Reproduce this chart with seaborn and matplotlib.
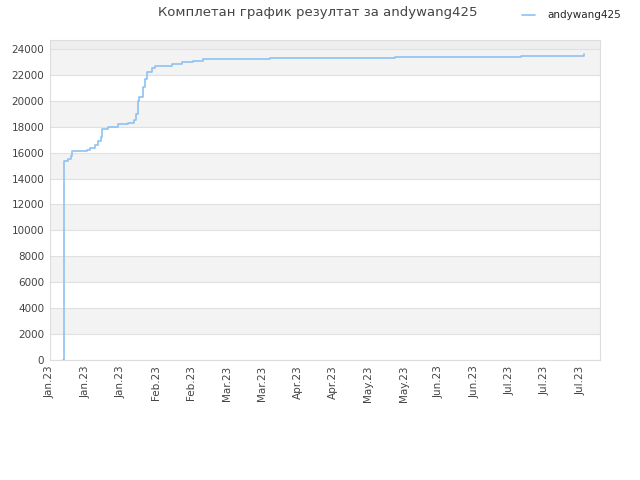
import seaborn as sns
import matplotlib.pyplot as plt
import matplotlib.dates as mdates
import pandas as pd

# podaci ocitani sa grafika
user = "andywang425"
datumi = [
    "2023-01-06 09:00", "2023-01-06 10:00", "2023-01-08 07:00", "2023-01-09 07:00",
    "2023-01-09 19:00", "2023-01-12 22:00", "2023-01-15 12:00", "2023-01-16 19:00",
    "2023-01-18 19:00", "2023-01-20 00:00", "2023-01-21 05:00", "2023-01-21 17:00",
    "2023-01-24 00:00", "2023-01-28 02:00", "2023-01-31 22:00", "2023-02-03 07:00",
    "2023-02-04 00:00", "2023-02-04 17:00", "2023-02-05 07:00", "2023-02-07 00:00",
    "2023-02-07 14:00", "2023-02-08 10:00", "2023-02-10 07:00", "2023-02-11 14:00",
    "2023-02-14 07:00", "2023-02-18 05:00", "2023-02-22 05:00", "2023-02-26 19:00",
    "2023-03-02 17:00", "2023-03-29 05:00", "2023-05-17 17:00", "2023-07-06 12:00",
    "2023-07-31 14:00",
]
rezultat = [
    0, 15380, 15500, 15750,
    16100, 16150, 16200, 16380,
    16590, 16900, 17200, 17800,
    18000, 18200, 18300, 18500,
    19000, 20000, 20300, 21100,
    21700, 22200, 22550, 22650,
    22700, 22850, 23000, 23100,
    23200, 23330, 23410, 23490,
    23590,
]
y_ticks = list(range(0, 24001, 2000))

df = pd.DataFrame({"datum": pd.to_datetime(datumi), "rezultat": rezultat})

sns.set_style("white")
plt.rcParams["font.family"] = ["DejaVu Sans"]

fig = plt.figure(figsize=(6.4, 4.8), dpi=100)
ax = fig.add_axes([0.078, 0.25, 0.86, 0.667])

# trake u pozadini
for i, y0 in enumerate(y_ticks[:-1]):
    if i % 2 == 1:
        ax.axhspan(y0, y0 + 2000, color="#f3f3f3", zorder=0, lw=0)
ax.axhspan(24000, 24700, color="#eeeeee", zorder=0, lw=0)
for y in y_ticks:
    ax.axhline(y, color="#e0e0e0", lw=0.8, zorder=1)

sns.lineplot(data=df, x="datum", y="rezultat", ax=ax, drawstyle="steps-post",
             color="#8ec2f2", lw=1.2, label=user, legend=False, zorder=3)

ax.set_ylim(0, 24700)
ax.set_xlim(pd.Timestamp("2023-01-01"), pd.Timestamp("2023-08-06 22:00"))
ax.set_yticks(y_ticks)
ax.yaxis.set_major_formatter(plt.FuncFormatter(lambda v, p: f"{int(v)}"))
ticks = pd.date_range("2023-01-01", periods=16, freq="14D")
ax.set_xticks(ticks)
ax.xaxis.set_major_formatter(mdates.DateFormatter("%b.%y"))
plt.setp(ax.get_xticklabels(), rotation=90)
ax.tick_params(axis="both", labelsize=7.5, colors="#444444", length=0, pad=4)
ax.set_xlabel("")
ax.set_ylabel("")
for s in ax.spines.values():
    s.set_color("#dddddd")
    s.set_linewidth(0.8)

fig.text(0.497, 0.988, "Комплетан график резултат за " + user, ha="center", va="top",
         fontsize=9.5, color="#444444")
fig.legend(loc="upper right", bbox_to_anchor=(0.985, 0.998), frameon=False,
           fontsize=7.5, handlelength=1.2, handletextpad=1.2)

plt.savefig("out.png", dpi=100)
